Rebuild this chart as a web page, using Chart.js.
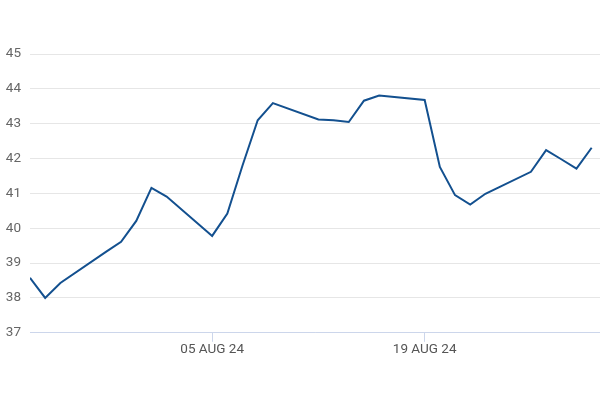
<!DOCTYPE html>
<html>
<head>
<meta charset="utf-8">
<script src="https://cdn.jsdelivr.net/npm/chart.js@4/dist/chart.umd.min.js"></script>
<style>
  html, body { margin: 0; padding: 0; background: #fff; }
  #wrap { width: 600px; height: 400px; }
</style>
</head>
<body>
<div id="wrap"><canvas id="c"></canvas></div>
<script>
const dates = [
  "2024-07-24", "2024-07-25", "2024-07-26", "2024-07-29", "2024-07-30", "2024-07-31",
  "2024-08-01", "2024-08-02", "2024-08-05", "2024-08-06", "2024-08-07", "2024-08-08",
  "2024-08-09", "2024-08-12", "2024-08-13", "2024-08-14", "2024-08-15", "2024-08-16",
  "2024-08-19", "2024-08-20", "2024-08-21", "2024-08-22", "2024-08-23", "2024-08-26",
  "2024-08-27", "2024-08-28", "2024-08-29", "2024-08-30"
];
const prices = [
  38.58, 38.0, 38.43, 39.32, 39.61, 40.21,
  41.16, 40.91, 39.78, 40.42, 41.8, 43.1,
  43.59, 43.12, 43.1, 43.05, 43.66, 43.81,
  43.68, 41.76, 40.95, 40.68, 40.99, 41.62,
  42.24, 41.98, 41.71, 42.31
];
const tickDates = ["2024-08-05", "2024-08-19"];
const tickLabels = ["05 AUG 24", "19 AUG 24"];

const day = s => Date.parse(s + "T00:00:00Z") / 86400000;
const points = dates.map((d, i) => ({ x: day(d), y: prices[i] }));
const tickDays = tickDates.map(day);

new Chart(document.getElementById("c"), {
  type: "line",
  data: {
    datasets: [{
      data: points,
      borderColor: "#13508f",
      borderWidth: 2,
      pointRadius: 0,
      tension: 0,
      fill: false
    }]
  },
  options: {
    responsive: true,
    maintainAspectRatio: false,
    animation: false,
    layout: { padding: { top: 54, right: 0, bottom: 42, left: 0 } },
    plugins: { legend: { display: false }, tooltip: { enabled: false } },
    scales: {
      x: {
        type: "linear",
        min: day(dates[0]),
        max: day(dates[dates.length - 1]) + 0.55,
        afterBuildTicks: axis => { axis.ticks = tickDays.map(v => ({ value: v })); },
        grid: { display: true, drawOnChartArea: false, drawTicks: true, tickLength: 9, color: "#ccd6eb" },
        border: { display: true, color: "#ccd6eb" },
        ticks: {
          autoSkip: false,
          maxRotation: 0,
          padding: 0,
          color: "#555",
          font: { family: "Roboto", size: 13.5 },
          callback: v => tickLabels[tickDays.indexOf(v)]
        }
      },
      y: {
        min: 37,
        max: 45,
        afterFit: axis => { axis.width = 30; },
        ticks: {
          stepSize: 1,
          padding: 9,
          color: "#666",
          font: { family: "Roboto", size: 13.5 }
        },
        grid: { color: "#e6e6e6", drawTicks: false },
        border: { display: false }
      }
    }
  }
});
</script>
</body>
</html>
